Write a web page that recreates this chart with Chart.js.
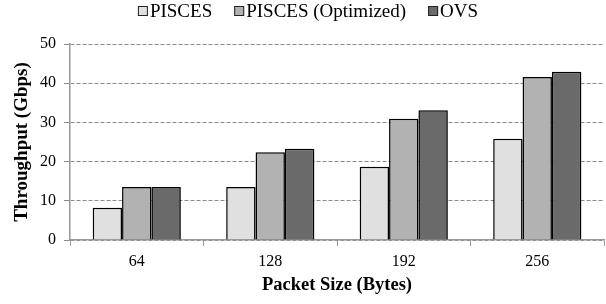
<!DOCTYPE html>
<html><head><meta charset="utf-8">
<script src="https://cdn.jsdelivr.net/npm/chart.js@4/dist/chart.umd.min.js"></script>
<style>html,body{margin:0;padding:0;background:#fff}#w{width:606px;height:304px}</style>
</head><body><div id="w"><canvas id="c" width="606" height="304"></canvas></div>
<script>
const categories = ["64", "128", "192", "256"];
const pisces = [8.2, 13.5, 18.7, 25.8];
const piscesOptimized = [13.5, 22.4, 30.9, 41.6];
const ovs = [13.5, 23.3, 33.1, 42.9];
const seriesNames = ["PISCES", "PISCES (Optimized)", "OVS"];
const yTicks = [0, 10, 20, 30, 40, 50];

const font = "'Liberation Serif', 'Times New Roman', serif";
const shadow = {
  id: 'shadow',
  beforeDatasetsDraw(chart) { const c = chart.ctx; c.save(); c.shadowColor = 'rgba(0,0,0,0.35)'; c.shadowBlur = 3; c.shadowOffsetX = 1.5; c.shadowOffsetY = 1.5; },
  afterDatasetsDraw(chart) { chart.ctx.restore(); }
};
const topLegend = {
  id: 'topLegend',
  afterDraw(chart) {
    const c = chart.ctx; c.save();
    c.font = '19px ' + font; c.textBaseline = 'middle'; c.fillStyle = '#000';
    const box = 10, gapText = 2, gapItem = 22, y = 11;
    const items = chart.data.datasets.map(d => ({ t: d.label, col: d.backgroundColor, w: box + gapText + c.measureText(d.label).width }));
    const total = items.reduce((s, it) => s + it.w, 0) + gapItem * (items.length - 1);
    let x = (chart.width - total) / 2 + 5;
    items.forEach(it => {
      c.fillStyle = it.col; c.fillRect(x, y - box / 2, box, box);
      c.strokeStyle = '#222'; c.lineWidth = 1; c.strokeRect(x + 0.5, y - box / 2 + 0.5, box - 1, box - 1);
      c.fillStyle = '#000'; c.textAlign = 'left'; c.fillText(it.t, x + box + gapText, y + 1);
      x += it.w + gapItem;
    });
    c.restore();
  }
};
const mk = (label, data, color) => ({ label, data, backgroundColor: color, borderColor: '#000', borderWidth: 1.5, borderSkipped: 'bottom', barPercentage: 1, categoryPercentage: 0.66 });
new Chart(document.getElementById('c'), {
  type: 'bar',
  data: { labels: categories, datasets: [
    mk(seriesNames[0], pisces, '#e0e0e0'),
    mk(seriesNames[1], piscesOptimized, '#b2b2b2'),
    mk(seriesNames[2], ovs, '#6a6a6a')
  ]},
  plugins: [shadow, topLegend],
  options: {
    responsive: false, animation: false, devicePixelRatio: 1,
    layout: { padding: { left: 0, right: 2, top: 44, bottom: 0 } },
    plugins: { tooltip: { enabled: false }, legend: { display: false } },
    scales: {
      x: {
        afterFit(axis) { axis.height = 64; },
        grid: { display: true, drawOnChartArea: false, color: '#999', tickLength: 6, offset: true },
        border: { color: '#999', width: 1.5 },
        ticks: { font: { family: font, size: 16 }, color: '#000', padding: 6 },
        title: { display: true, text: 'Packet Size (Bytes)', font: { family: font, size: 18.5, weight: 'bold' }, color: '#000', padding: { top: 2, bottom: 8 } }
      },
      y: {
        min: 0, max: 50,
        afterFit(axis) { axis.width = 70; },
        afterBuildTicks(axis) { axis.ticks = yTicks.map(v => ({ value: v })); },
        grid: { color: '#8c8c8c', lineWidth: 1, tickLength: 6 },
        border: { color: '#999', width: 1.5, dash: [4, 2] },
        ticks: { font: { family: font, size: 16 }, color: '#000', padding: 8 },
        title: { display: true, text: 'Throughput (Gbps)', font: { family: font, size: 19, weight: 'bold' }, color: '#000', padding: { top: 11, bottom: 0 } }
      }
    }
  }
});
</script></body></html>
